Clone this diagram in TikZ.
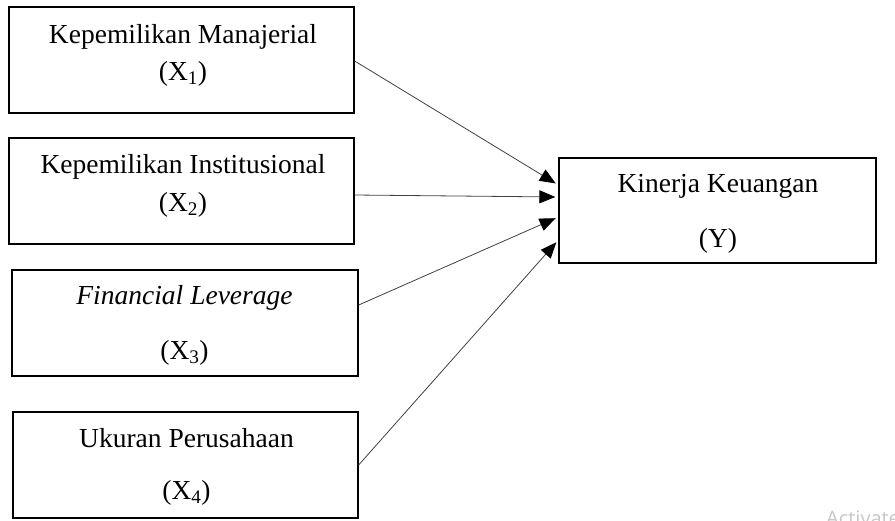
\documentclass[tikz,border=0pt]{standalone}
\usepackage{fontspec}
\setmainfont{Liberation Serif}
\newfontfamily\wmfont{Open Sans}
\usetikzlibrary{arrows.meta}
\begin{document}
\begin{tikzpicture}[x=1pt,y=-1pt,
  varbox/.style={draw=black,line width=1.3pt,rectangle,inner sep=0pt},
  lbl/.style={anchor=base,inner sep=0pt,font=\fontsize{27.5}{33}\selectfont},
  link/.style={draw=black!75,line width=0.8pt,shorten >=3pt,-{Triangle[length=16pt,width=13pt,color=black]}}]
\useasboundingbox (0,0) rectangle (895,520);
% boxes
\node[varbox,minimum width=345pt,minimum height=106pt] (b1) at (181.5,60) {};
\node[varbox,minimum width=345pt,minimum height=106pt] (b2) at (181.5,191) {};
\node[varbox,minimum width=346pt,minimum height=106pt] (b3) at (185,323) {};
\node[varbox,minimum width=345pt,minimum height=106pt] (b4) at (185.5,465) {};
\node[varbox,minimum width=317pt,minimum height=105pt] (y) at (717.5,210.5) {};
% texts
\node[lbl] (t1a) at (183,43) {Kepemilikan Manajerial};
\node[lbl] (t1b) at (183,80) {(X\textsubscript{1})};
\node[lbl] (t2a) at (183,173) {Kepemilikan Institusional};
\node[lbl] (t2b) at (183,211) {(X\textsubscript{2})};
\node[lbl] (t3a) at (184.5,304) {\itshape Financial Leverage};
\node[lbl] (t3b) at (184.5,359) {(X\textsubscript{3})};
\node[lbl] (t4a) at (186.5,447) {Ukuran Perusahaan};
\node[lbl] (t4b) at (186.5,499) {(X\textsubscript{4})};
\node[lbl] (tya) at (718,192) {Kinerja Keuangan};
\node[lbl] (tyb) at (718,247) {(Y)};
% connectors
\draw[link] ([yshift=-1pt]b1.east) -- ([yshift=25.5pt]y.west);
\draw[link] ([yshift=-4pt]b2.east) -- ([yshift=13.5pt]y.west);
\draw[link] ([yshift=18pt]b3.east) -- ([yshift=-6.5pt]y.west);
\draw[link] (b4.east) -- ([yshift=-29.5pt]y.west);
% watermark
\begin{scope}
\clip (0,0) rectangle (895,520);
\node[anchor=base west,inner sep=0pt,text=black!22,font=\wmfont\fontsize{20}{24}\selectfont] (wm) at (826,525) {Activate};
\end{scope}
\end{tikzpicture}
\end{document}
